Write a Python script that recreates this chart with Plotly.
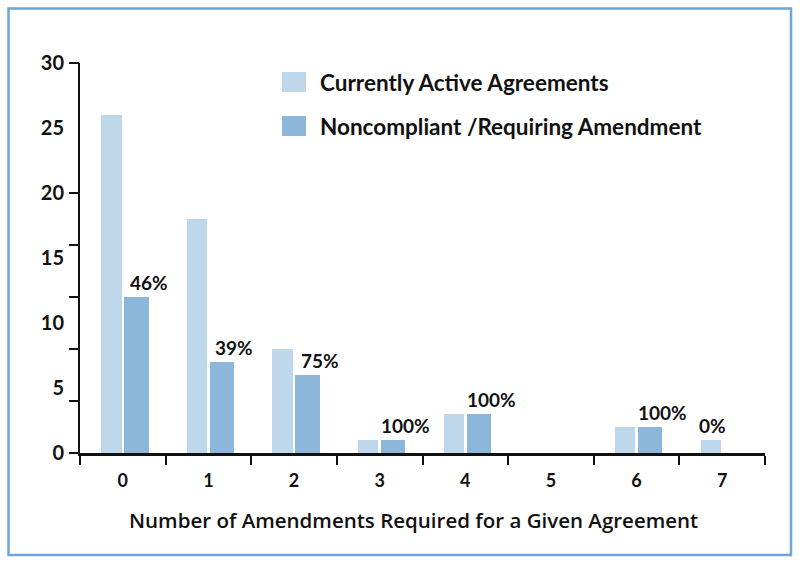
import plotly.graph_objects as go

categories = ["0", "1", "2", "3", "4", "5", "6", "7"]
active = [26, 18, 8, 1, 3, 0, 2, 1]
noncompliant = [12, 7, 6, 1, 3, 0, 2, 0]
pct_labels = ["46%", "39%", "75%", "100%", "100%", "", "100%", "0%"]
series_names = ["Currently Active Agreements", "Noncompliant /Requiring Amendment"]
y_label_vals = [0, 5, 10, 15, 20, 25, 30]
y_tick_marks = [0, 4, 8, 12, 16, 20, 30]
x_title = "Number of Amendments Required for a Given Agreement"

C_ACTIVE = "#bfd7eb"
C_NON = "#8cb7db"
C_BORDER = "#6ea6d6"
FONT = "Lato"
TFONT = "Open Sans"
TXT = "#111111"

fig = go.Figure()
fig.add_trace(go.Bar(x=categories, y=active, name=series_names[0], marker_color=C_ACTIVE,
                     marker_line_width=0, offset=-0.252, width=0.238, showlegend=False))
fig.add_trace(go.Bar(x=categories, y=noncompliant, name=series_names[1], marker_color=C_NON,
                     marker_line_width=0, offset=0.016, width=0.284, showlegend=False))
# invisible trace on overlay axis to carry the y tick marks
fig.add_trace(go.Scatter(x=categories, y=[None]*len(categories), yaxis="y2",
                         showlegend=False, hoverinfo="skip"))

annotations = []
for i, c in enumerate(categories):
    t = pct_labels[i]
    if not t:
        continue
    if noncompliant[i] > 0:
        xv, yv = i + 0.30, noncompliant[i]
    else:
        xv, yv = i - 0.11, active[i]
    annotations.append(dict(x=xv, y=yv, xref="x", yref="y", text=t, showarrow=False,
                            xanchor="center", yanchor="bottom", yshift=1,
                            font=dict(family=FONT, size=19, color=TXT, weight=700)))

# manual legend with large swatches
legend_rows = [(82, C_ACTIVE), (126, C_NON)]
shapes = []
for (yc, col), name in zip(legend_rows, series_names):
    shapes.append(dict(type="rect", xref="paper", yref="paper", x0=(282 - 80) / 685, x1=(306 - 80) / 685,
                       y0=(453 - (yc + 10)) / 390, y1=(453 - (yc - 10)) / 390,
                       fillcolor=col, line_width=0))
    annotations.append(dict(xref="paper", yref="paper", x=(318 - 80) / 685, y=(453 - yc) / 390,
                            text=name, showarrow=False, xanchor="left", yanchor="middle",
                            font=dict(family=FONT, size=22.5, color=TXT, weight=700)))

# x-axis title
annotations.append(dict(xref="paper", yref="paper", x=(413 - 80) / 685, y=(453 - 520) / 390,
                        text=x_title, showarrow=False, xanchor="center", yanchor="middle",
                        font=dict(family=TFONT, size=20.5, color=TXT, weight=600)))

# figure border
shapes.append(dict(type="rect", xref="paper", yref="paper",
                   x0=(8.5 - 80) / 685, x1=(791 - 80) / 685,
                   y0=(453 - 555) / 390, y1=(453 - 8.5) / 390,
                   line=dict(color=C_BORDER, width=2.5), fillcolor="rgba(0,0,0,0)", layer="below"))

fig.update_layout(
    width=800, height=564,
    margin=dict(l=80, r=35, t=63, b=111),
    paper_bgcolor="white", plot_bgcolor="white",
    bargap=0, barmode="overlay",
    font=dict(family=FONT, color=TXT),
    annotations=annotations, shapes=shapes,
    xaxis=dict(type="category", range=[-0.5, 7.5], tickson="boundaries",
               ticks="outside", ticklen=9, tickwidth=1.5, tickcolor="#111",
               ticklabelstandoff=10,
               showline=True, linecolor="#111", linewidth=2.5, showgrid=False, zeroline=False,
               tickfont=dict(family=FONT, size=18, color=TXT, weight=700)),
    yaxis=dict(range=[0, 30], tickvals=y_label_vals, ticktext=[str(v) for v in y_label_vals],
               ticks="outside", ticklen=10, tickcolor="rgba(0,0,0,0)",
               showline=True, linecolor="#111", linewidth=2, showgrid=False, zeroline=False,
               tickfont=dict(family=FONT, size=20, color=TXT, weight=700)),
    yaxis2=dict(range=[0, 30], overlaying="y", side="left", tickvals=y_tick_marks,
                showticklabels=False, ticks="outside", ticklen=10, tickwidth=1.5, tickcolor="#111",
                showline=False, showgrid=False, zeroline=False),
)

fig.write_html("out.html", config={"displayModeBar": False},
               post_script="document.body.style.margin='0px';")
